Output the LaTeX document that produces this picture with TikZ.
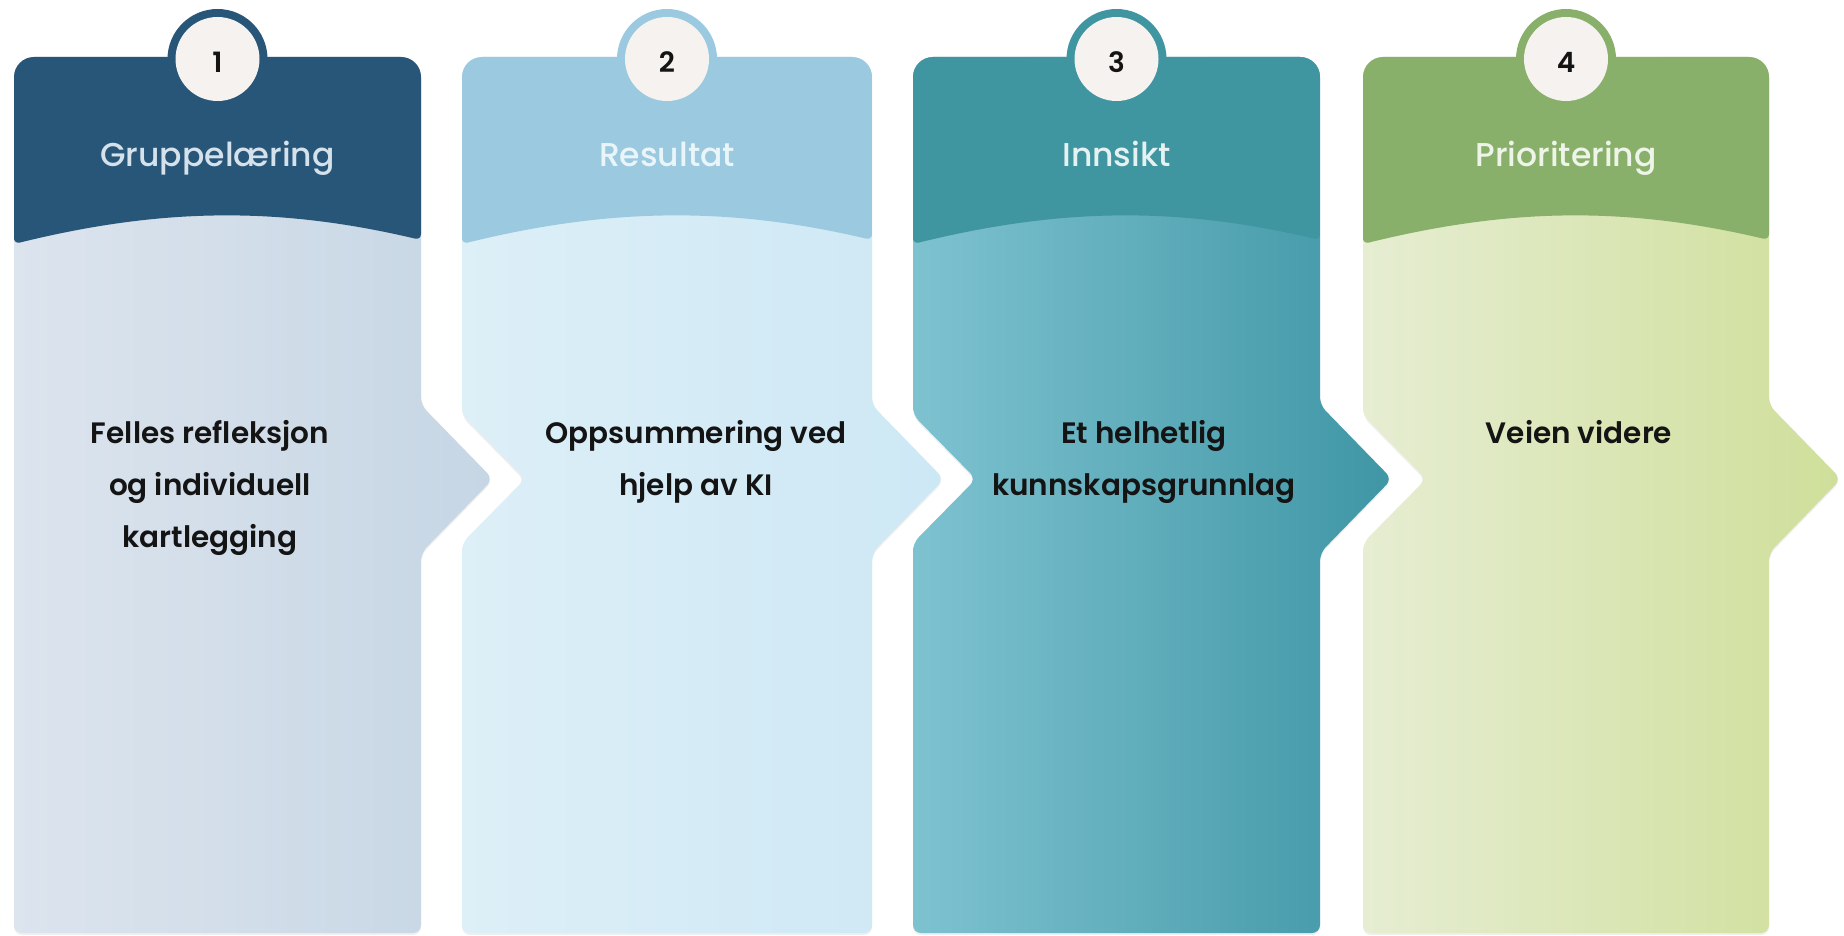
\documentclass[tikz,border=0pt]{standalone}
\usepackage{fontspec}
\setmainfont{Poppins}
\newfontfamily\medf{Poppins Medium}
\newfontfamily\semf{Poppins SemiBold}
\usetikzlibrary{shadows}
\definecolor{h1}{HTML}{285679}
\definecolor{h2}{HTML}{9BCAE0}
\definecolor{h3}{HTML}{3F95A0}
\definecolor{h4}{HTML}{89B06B}
\definecolor{bl1}{HTML}{DCE4EE}
\definecolor{br1}{HTML}{C6D6E4}
\definecolor{bl2}{HTML}{DDEFF7}
\definecolor{br2}{HTML}{CDE8F5}
\definecolor{bl3}{HTML}{7EC2D0}
\definecolor{br3}{HTML}{3F96A5}
\definecolor{bl4}{HTML}{E6EDD2}
\definecolor{br4}{HTML}{CFDF9A}
\definecolor{t1}{HTML}{D5E2EC}
\definecolor{t2}{HTML}{EAF5FA}
\definecolor{t3}{HTML}{E6F1F2}
\definecolor{t4}{HTML}{EEF5E8}
\definecolor{disc}{HTML}{F6F2EF}
\definecolor{ink}{HTML}{141414}
\tikzset{
  titletext/.style={anchor=base, font=\medf\fontsize{33}{34}\selectfont},
  bodytext/.style={anchor=base, align=center, text=ink, font=\semf\fontsize{29.5}{52}\selectfont},
  numtext/.style={font=\semf\fontsize{28}{29}\selectfont, text=ink},
}
\begin{document}
\begin{tikzpicture}[x=1pt,y=-1pt]
\useasboundingbox (0,0) rectangle (1844,936);
\fill[white] (0,0) rectangle (1844,936);
\foreach \n/\L/\R/\N in {1/14/421/0, 2/462/872/63, 3/913/1320/63, 4/1363/1769/63}{
  \path[left color=bl\n, right color=br\n,
        drop shadow={opacity=0.12, shadow xshift=0pt, shadow yshift=-2pt},
        rounded corners=8pt]
    (\L,300) -- (\L,415) -- (\L+\N,479) -- (\L,543) -- (\L,933) -- (\R,933)
    -- (\R,553) -- (\R+72,479) -- (\R,405) [rounded corners=20pt] -- (\R,57) -- (\L,57) -- cycle;
  \begin{scope}
    \clip[rounded corners=20pt] (\L,300) -- (\R,300) -- (\R,57) -- (\L,57) -- cycle;
    \fill[h\n, rounded corners=6pt] (\L-5,0) -- (\R,0) -- (\R,240)
      .. controls (\R-140,207) and (\L+150,207) .. (\L,244) -- cycle;
  \end{scope}
  \fill[h\n] ({(\L+\R)/2},59) circle (50);
  \fill[disc] ({(\L+\R)/2},59) circle (42);
}
\node[numtext] (c1) at (217.5,62) {1};
\node[numtext] (c2) at (667,62) {2};
\node[numtext] (c3) at (1116.5,62) {3};
\node[numtext] (c4) at (1566,62) {4};
\node[titletext, text=t1] (h1) at (217.5,167) {Gruppelæring};
\node[titletext, text=t2] (h2) at (667,167) {Resultat};
\node[titletext, text=t3] (h3) at (1116.5,167) {Innsikt};
\node[titletext, text=t4] (h4) at (1566,167) {Prioritering};
\node[bodytext] (b1) at (210,547) {Felles refleksjon\\og individuell\\kartlegging};
\node[bodytext] (b2) at (696,495) {Oppsummering ved\\hjelp av KI};
\node[bodytext] (b3) at (1144,495) {Et helhetlig\\kunnskapsgrunnlag};
\node[bodytext] (b4) at (1579,443) {Veien videre};
\end{tikzpicture}
\end{document}
